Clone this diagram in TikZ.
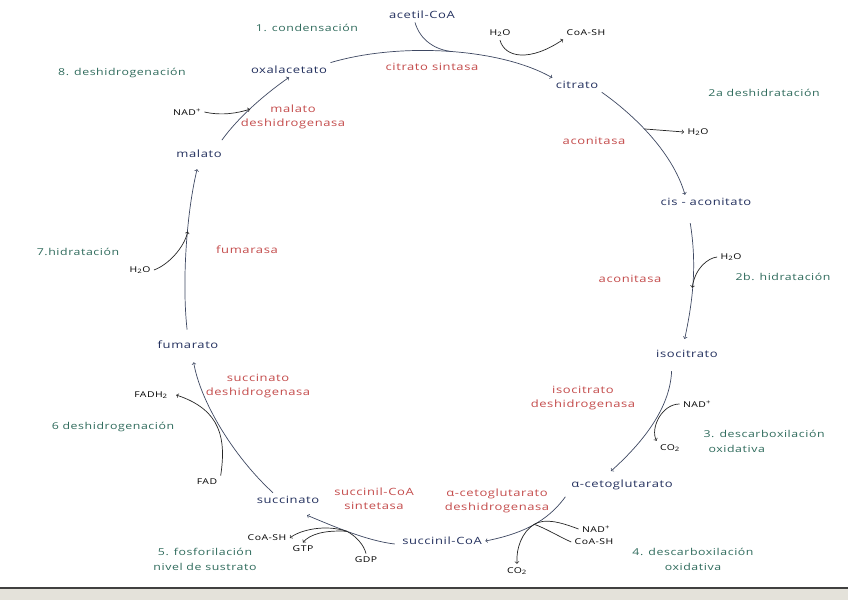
\documentclass[tikz,border=0pt]{standalone}
\usepackage{fontspec}
\setmainfont{Open Sans}[FakeStretch=1.3,LetterSpace=6]
\definecolor{metblue}{HTML}{23305E}
\definecolor{enzred}{HTML}{C44B4B}
\definecolor{stpgreen}{HTML}{2F6B5C}
\definecolor{cycgray}{HTML}{3E4862}
\definecolor{paperedge}{HTML}{E4E2DA}
\begin{document}
\begin{tikzpicture}[x=1pt,y=-1pt,
    met/.style={text=metblue,font=\fontsize{10}{12}\selectfont},
    enz/.style={text=enzred,align=center,font=\fontsize{10}{14}\selectfont},
    stp/.style={text=stpgreen,align=center,font=\fontsize{9.5}{15}\selectfont},
    cof/.style={font=\fontsize{8}{10}\selectfont},
    cyc/.style={draw=cycgray,line width=0.7pt},
    side/.style={draw=black!85,line width=0.7pt}]
    \useasboundingbox (0,0) rectangle (848,600);
    \fill[white] (0,0) rectangle (848,600);
    % Edge of the sheet
    \fill[paperedge] (0,589) rectangle (848,600);
    \draw[line width=2.5pt,black!75] (0,588) -- (848,588);

    % Metabolites
    \node[met] (acoa) at (422,15) {acetil-CoA};
    \node[met] (oxa) at (289,70) {oxalacetato};
    \node[met] (cit) at (577,85) {citrato};
    \node[met] (cisac) at (706,202) {cis - aconitato};
    \node[met] (isocit) at (687,354) {isocitrato};
    \node[met] (akg) at (622,485) {α-cetoglutarato};
    \node[met] (sucoa) at (442,541) {succinil-CoA};
    \node[met] (succ) at (288,500) {succinato};
    \node[met] (fum) at (188,345) {fumarato};
    \node[met] (mal) at (199,154) {malato};

    % Enzymes
    \node[enz] (cs) at (432,67) {citrato sintasa};
    \node[enz] (acoA) at (594,141) {aconitasa};
    \node[enz] (acoB) at (630,279) {aconitasa};
    \node[enz] (idh) at (583,398) {isocitrato\\deshidrogenasa};
    \node[enz] (akgdh) at (497,501) {α-cetoglutarato\\deshidrogenasa};
    \node[enz] (scs) at (374,499) {succinil-CoA\\sintetasa};
    \node[enz] (sdh) at (258,386) {succinato\\deshidrogenasa};
    \node[enz] (fumase) at (247,250) {fumarasa};
    \node[enz] (mdh) at (293,117) {malato\\deshidrogenasa};

    % Steps
    \node[stp] (s1) at (307,28) {1. condensación};
    \node[stp] (s2a) at (764,93) {2a deshidratación};
    \node[stp] (s2b) at (783,277) {2b. hidratación};
    \node[stp,align=left,anchor=west] (s3) at (700,441) {3. descarboxilación\\\hspace{5pt}oxidativa};
    \node[stp] (s4) at (693,559) {4. descarboxilación\\oxidativa};
    \node[stp] (s5) at (205,559) {5. fosforilación\\nivel de sustrato};
    \node[stp] (s6) at (113,427) {6 deshidrogenación};
    \node[stp] (s7) at (78,252) {7.hidratación};
    \node[stp] (s8) at (122,73) {8. deshidrogenación};

    % Cofactors
    \node[cof] (h2oa) at (500,33) {H\textsubscript{2}O};
    \node[cof] (coasha) at (586,33) {CoA-SH};
    \node[cof] (h2ob) at (698,132) {H\textsubscript{2}O};
    \node[cof] (h2oc) at (731,257) {H\textsubscript{2}O};
    \node[cof] (nada) at (697,404) {NAD\textsuperscript{+}};
    \node[cof] (co2a) at (670,448) {CO\textsubscript{2}};
    \node[cof] (nadb) at (596,529) {NAD\textsuperscript{+}};
    \node[cof] (coashb) at (594,542) {CoA-SH};
    \node[cof] (co2b) at (517,571) {CO\textsubscript{2}};
    \node[cof] (gdp) at (366,560) {GDP};
    \node[cof] (gtp) at (303,549) {GTP};
    \node[cof] (coashc) at (267,538) {CoA-SH};
    \node[cof] (fad) at (207,482) {FAD};
    \node[cof] (fadh) at (151,395) {FADH\textsubscript{2}};
    \node[cof] (h2od) at (140,270) {H\textsubscript{2}O};
    \node[cof] (nadc) at (187,112) {NAD\textsuperscript{+}};

    % 1. condensacion
    \draw[cyc,->] (oxa.north east) .. controls (400,42) and (500,48) .. (cit.north west) coordinate[pos=0.52] (j1);
    \draw[cyc] ([xshift=-7pt]acoa.south) .. controls (420,40) and (435,50) .. (j1);
    \draw[side,->] (h2oa.south) .. controls (505,58) and (530,62) .. (coasha.south west);
    % 2a. deshidratacion
    \draw[cyc,->] (cit.south east) .. controls (630,112) and (672,150) .. ([xshift=-21pt]cisac.north) coordinate[pos=0.45] (j2);
    \draw[side,->] (j2) -- (h2ob.west);
    % 2b. hidratacion
    \draw[cyc,->,shorten <=14pt,shorten >=8pt] ([xshift=-18pt]cisac.south) .. controls (697,265) and (693,300) .. ([xshift=-4pt]isocit.north) coordinate[pos=0.55] (j3);
    \draw[side,->] (h2oc.west) .. controls (708,258) and (695,268) .. (j3);
    % 3. descarboxilacion oxidativa
    \draw[cyc,->,shorten <=10pt,shorten >=8pt] ([xshift=-15pt]isocit.south) .. controls (670,410) and (640,445) .. ([xshift=-17pt]akg.north);
    \draw[side,->] (nada.west) .. controls (662,404) and (650,428) .. (co2a.north west);
    % 4. descarboxilacion oxidativa
    \draw[cyc,->,shorten <=4pt] (akg.south west) .. controls (552,515) and (532,532) .. (sucoa.east) coordinate[pos=0.55] (j5);
    \draw[side] (nadb.west) .. controls (560,522) and (545,518) .. (j5);
    \draw[side] (coashb.west) .. controls (558,536) and (545,528) .. (j5);
    \draw[side,->] (j5) .. controls (522,532) and (516,548) .. (co2b.north);
    % 5. fosforilacion a nivel de sustrato
    \draw[cyc,->] ([xshift=-4pt,yshift=-3pt]sucoa.west) .. controls (368,541) and (335,527) .. ([xshift=19pt,yshift=-8pt]succ.south) coordinate[pos=0.55] (j6);
    \draw[side] (gdp.north) .. controls (364,545) and (356,536) .. (j6);
    \draw[side,->] (j6) .. controls (325,524) and (300,530) .. (coashc.east);
    \draw[side,->] (j6) .. controls (325,530) and (310,534) .. (gtp.north);
    % 6. deshidrogenacion
    \draw[cyc,->,shorten >=10pt] ([xshift=-15pt]succ.north) .. controls (232,455) and (200,400) .. ([xshift=4pt]fum.south);
    \draw[side,->] (fad.north east) .. controls (226,440) and (222,410) .. ([xshift=5pt]fadh.east);
    % 7. hidratacion
    \draw[cyc,->,shorten <=8pt,shorten >=8pt] (fum.north) .. controls (182,285) and (186,215) .. (mal.south) coordinate[pos=0.6] (j7);
    \draw[side,->] (h2od.east) .. controls (168,265) and (184,248) .. (j7);
    % 8. deshidrogenacion
    \draw[cyc,->,shorten <=8pt] ([xshift=-8pt]mal.north east) .. controls (240,115) and (268,92) .. (oxa.south) coordinate[pos=0.45] (j8);
    \draw[side,->] (nadc.east) .. controls (222,116) and (238,113) .. (j8);
\end{tikzpicture}
\end{document}
